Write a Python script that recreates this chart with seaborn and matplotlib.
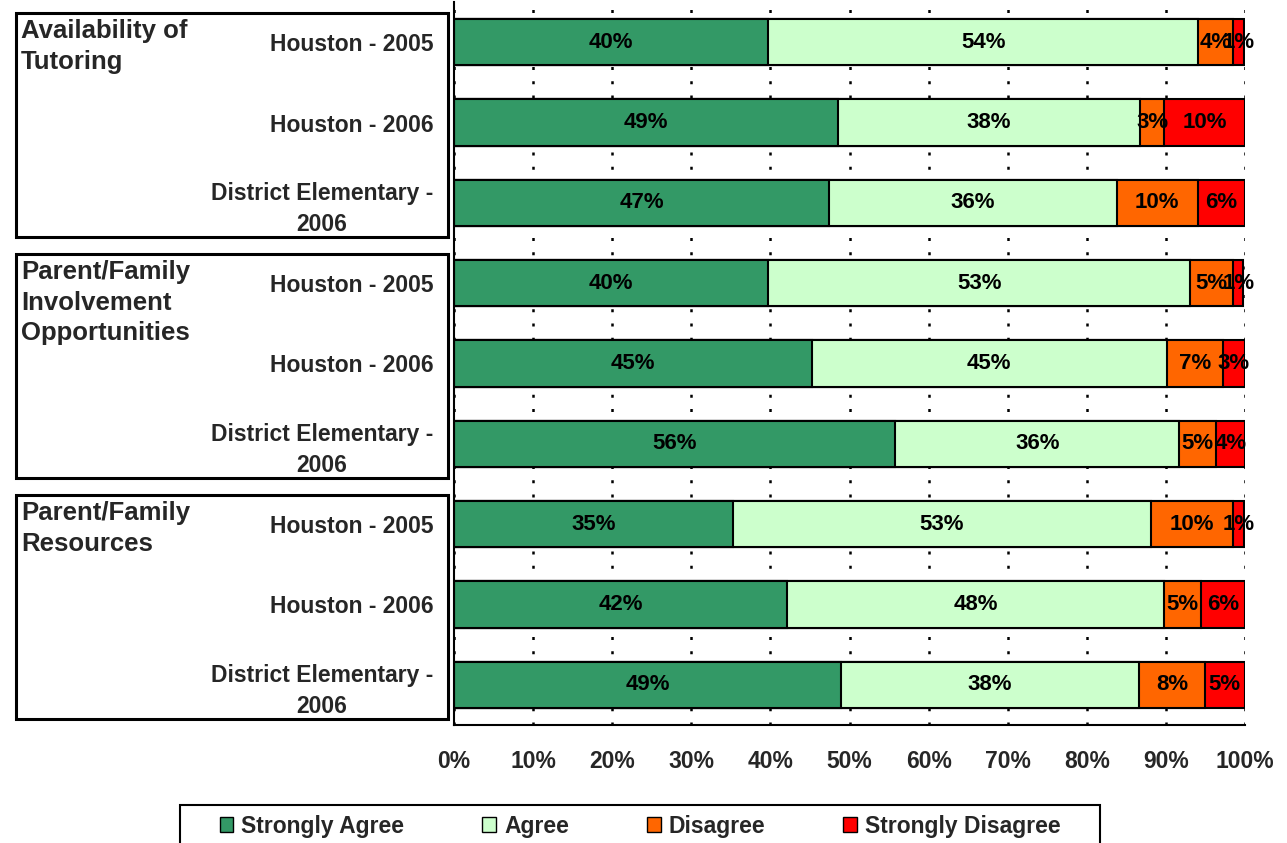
import numpy as np
import pandas as pd
import matplotlib
matplotlib.use("Agg")
import matplotlib.pyplot as plt
import matplotlib.transforms as mtransforms
from matplotlib.patches import Rectangle, Patch
import seaborn as sns

# --- data (percent of responses) ---
groups = ["Availability of\nTutoring",
          "Parent/Family\nInvolvement\nOpportunities",
          "Parent/Family\nResources"]
row_labels = ["Houston - 2005", "Houston - 2006", "District Elementary -\n2006"] * 3
series = ["Strongly Agree", "Agree", "Disagree", "Strongly Disagree"]
strongly_agree = [39.7, 48.6, 47.4, 39.7, 45.2, 55.8, 35.3, 42.1, 48.9]
agree = [54.4, 38.1, 36.4, 53.4, 44.9, 35.9, 52.8, 47.7, 37.7]
disagree = [4.4, 3.1, 10.2, 5.4, 7.1, 4.6, 10.4, 4.6, 8.3]
strongly_disagree = [1.4, 10.2, 6.0, 1.3, 2.8, 3.7, 1.4, 5.6, 5.1]
colors = ["#339966", "#CCFFCC", "#FF6600", "#FF0000"]

df = pd.DataFrame({
    "Strongly Agree": strongly_agree,
    "Agree": agree,
    "Disagree": disagree,
    "Strongly Disagree": strongly_disagree,
})
df["row"] = [str(i) for i in range(len(df))]
cum = df[series].cumsum(axis=1)

sns.set_style("white")
plt.rcParams['font.family'] = ['Liberation Sans', 'DejaVu Sans']
plt.rcParams['font.weight'] = 'bold'

W, H = 1287, 843
fig = plt.figure(figsize=(W / 100, H / 100), dpi=100)
ax = fig.add_axes([454 / W, 1 - 725 / H, (1245 - 454) / W, (725 - 2) / H])

# stacked bars: draw cumulative totals from the widest down
for name, col in reversed(list(zip(series, colors))):
    sns.barplot(x=cum[name], y=df["row"], orient="h", color=col, saturation=1,
                edgecolor="black", linewidth=1.5, width=0.58, ax=ax)

# segment labels
for name in series:
    centers = cum[name] - df[name] / 2
    for i, (c, v) in enumerate(zip(centers, df[name])):
        ax.text(c, i, f"{v:.0f}%", ha="center", va="center",
                fontsize=16, fontweight="bold", color="black")

ax.set_xlim(0, 100)
ax.set_xticks(np.arange(0, 101, 10))
ax.set_xticklabels([f"{t}%" for t in range(0, 101, 10)], fontsize=16.5)
ax.set_xlabel("")
ax.set_ylabel("")
ax.set_yticks(range(len(df)))
ax.set_yticklabels(row_labels, fontsize=16.5, multialignment="center", linespacing=1.45)
ax.set_yticks(np.arange(-0.5, len(df), 1), minor=True)
ax.tick_params(axis="y", which="major", length=0, pad=15)
ax.tick_params(axis="y", which="minor", length=6, width=1.5, direction="out", color="black")
ax.tick_params(axis="x", length=8, width=1.5, direction="out", color="black", pad=10)

ax.set_axisbelow(True)
ax.xaxis.grid(True, color="black", linestyle=(0, (1.2, 4.5)), linewidth=1.8)
ax.yaxis.grid(False)
for s in ["top", "right"]:
    ax.spines[s].set_visible(False)
for s in ["left", "bottom"]:
    ax.spines[s].set_color("black")
    ax.spines[s].set_linewidth(1.5)

# group boxes on the left
trans = mtransforms.blended_transform_factory(fig.transFigure, ax.transData)
for g, name in enumerate(groups):
    r0, r2 = 3 * g, 3 * g + 2
    top, bot = r0 - 0.36, r2 + 0.42
    ax.add_patch(Rectangle((16 / W, top), (448 - 16) / W, bot - top, transform=trans,
                           fill=False, edgecolor="black", linewidth=2.2, clip_on=False))
    ax.text(21 / W, top + 0.07, name, transform=trans, ha="left", va="top",
            fontsize=18.5, fontweight="bold", linespacing=1.35)

# legend, with its frame drawn as a separate box
handles = [Patch(facecolor=c, edgecolor="black", label=n) for n, c in zip(series, colors)]
fig.legend(handles=handles, loc="center", bbox_to_anchor=(640 / W, 1 - 826 / H),
           ncol=4, frameon=False, fontsize=16.5,
           handlelength=0.6, handleheight=0.6, handletextpad=0.35,
           columnspacing=3.4, borderpad=0, borderaxespad=0)
fig.add_artist(Rectangle((180 / W, -0.02), (1100 - 180) / W, 1 - 805 / H + 0.02,
                         transform=fig.transFigure, fill=False,
                         edgecolor="black", linewidth=1.5))

fig.savefig("out.png", dpi=100)
